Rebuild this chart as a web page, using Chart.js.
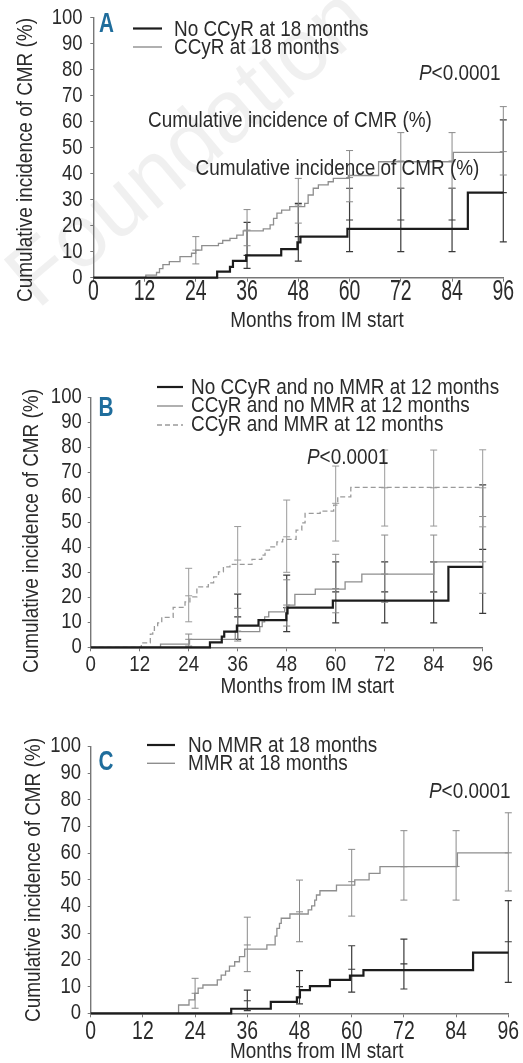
<!DOCTYPE html>
<html>
<head>
<meta charset="utf-8">
<script src="https://cdn.jsdelivr.net/npm/chart.js@4"></script>
<style>
  body { margin: 0; background: #fff; width: 523px; height: 1063px; position: relative; overflow: hidden; }
  canvas { position: absolute; left: 0; top: 0; }
</style>
</head>
<body>
<canvas id="panelA" width="523" height="1063"></canvas>
<canvas id="panelB" width="523" height="1063"></canvas>
<canvas id="panelC" width="523" height="1063"></canvas>
<script>
// Axis ticks
const monthTicks = [0, 12, 24, 36, 48, 60, 72, 84, 96];
const percentTicks = [0, 10, 20, 30, 40, 50, 60, 70, 80, 90, 100];

// Panel A: by cytogenetic response at 18 months
const aNoCcyrMonth = [0, 29, 32, 32.7, 35.8, 44, 47.8, 48.5, 59.5, 87.7, 96];
const aNoCcyrCmr = [0, 2.3, 4.2, 6.5, 8.6, 11, 13.6, 15.8, 18.8, 32.7, 32.7];
const aCcyrMonth = [0, 12.3, 14.8, 15.5, 16.3, 17.8, 20.3, 23, 24, 25.4, 29.3, 30.3, 32, 33.6, 35.1, 39.8, 41.4, 42.2, 43, 44.1, 46, 49.5, 50.3, 51.5, 52.7, 55, 56.2, 59.7, 66.8, 84.3, 96];
const aCcyrCmr = [0, 1, 2, 3.5, 5, 6.2, 8.1, 9.4, 10.6, 12.3, 13.2, 14.3, 15.1, 16.4, 18, 18.8, 20.3, 22.8, 24.8, 26, 27.3, 28.6, 31.8, 34.4, 35.7, 36.9, 38.2, 39.3, 44.6, 48.2, 48.2];
const aNoCcyrBarMonth = [36, 48, 60, 72, 84, 96];
const aNoCcyrLow = [3.6, 6.4, 10, 10, 10, 13.8];
const aNoCcyrMid = [8.6, 15.8, 22.2, 22.2, 22.2, 32.7];
const aNoCcyrHigh = [21.3, 28.6, 34.4, 34.4, 34.4, 60.7];
const aCcyrBarMonth = [24, 36, 48, 60, 72, 84, 96];
const aCcyrLow = [5.3, 12.3, 21, 29.2, 34.4, 34.4, 39.5];
const aCcyrMid = [10.6, 18.3, 28, 38.5, 44.9, 44.9, 48.5];
const aCcyrHigh = [15.8, 26.2, 38.2, 48.9, 55.8, 55.8, 65.8];

// Panel B: by response at 12 months
const bNoneMonth = [0, 29.2, 32.1, 32.7, 35.8, 41.1, 47.9, 48.2, 59.3, 87.6, 96];
const bNoneCmr = [0, 2, 4.3, 6.3, 8.7, 10.9, 13.6, 15.9, 18.7, 32.2, 32.2];
const bCcyrMonth = [0, 17.1, 24.2, 35.4, 41.4, 42, 42.6, 43.6, 47.5, 48.3, 50, 55, 62.3, 66.4, 84, 96];
const bCcyrCmr = [0, 1.3, 3.2, 6.3, 8.3, 10.2, 12.2, 14.2, 16, 16.9, 21.2, 23.3, 26.2, 29.3, 34.2, 34.2];
const bBothMonth = [0, 12.4, 14.6, 15.2, 15.6, 16.4, 17.4, 20.2, 23.1, 24.3, 26, 28.8, 30.1, 31.3, 32.5, 34.1, 39.5, 41.9, 42.7, 43.8, 45.6, 47, 50.3, 51.7, 52.5, 56.2, 59.5, 60.5, 63.7, 96];
const bBothCmr = [0, 1.8, 5.3, 6.8, 8.3, 9.8, 12, 16, 18.2, 20.2, 24.2, 25.8, 28.2, 30.2, 32.2, 33.2, 35.2, 36.9, 38.9, 40.2, 42.2, 43.2, 46.9, 49.8, 53.6, 54.5, 56.9, 60.2, 64, 64];
const bNoneBarMonth = [36, 48, 60, 72, 84, 96];
const bNoneLow = [3.2, 6.3, 9.8, 9.8, 9.8, 13.6];
const bNoneMid = [12.2, 15.9, 22.2, 22.2, 22.2, 39.2];
const bNoneHigh = [21.3, 28.9, 34.2, 34.2, 34.2, 65];
const bCcyrBarMonth = [24, 36, 48, 60, 72, 84, 96];
const bCcyrLow = [0.5, 2.5, 8.5, 13.8, 18, 22, 21.6];
const bCcyrMid = [3.2, 6.5, 16.9, 23.5, 29.3, 34.2, 34.2];
const bCcyrHigh = [5.3, 15.6, 27, 37.2, 44.9, 44.9, 52.3];
const bBothBarMonth = [24, 36, 48, 60, 72, 84, 96];
const bBothLow = [10.2, 21.5, 30, 42.5, 48.5, 48.5, 48.2];
const bBothMid = [20.6, 34.9, 44.2, 57.6, 63.8, 63.8, 63.8];
const bBothHigh = [31.6, 48.3, 58.9, 72.5, 78.9, 78.9, 79];

// Panel C: by molecular response at 18 months
const cNoMmrMonth = [0, 32.3, 41.4, 47.4, 48.1, 50.4, 55, 59.6, 62.7, 87.9, 96];
const cNoMmrCmr = [0, 1.7, 4.3, 6, 8.7, 10.2, 12.5, 14.1, 16.2, 22.7, 22.7];
const cMmrMonth = [0, 20.2, 22.6, 23.9, 24.7, 25.8, 29.1, 30, 31, 31.9, 33.1, 34.2, 35.4, 40.5, 42.4, 42.8, 43.4, 43.8, 45.8, 50, 50.8, 51.5, 51.9, 52.7, 56.5, 60.7, 64, 66.5, 84.3, 96];
const cMmrCmr = [0, 3.1, 5, 7.5, 9.4, 10.6, 12.5, 14.3, 15.8, 17.7, 19.3, 21.2, 24, 25.6, 28.9, 31.8, 33.7, 35.6, 37.2, 38.7, 40.2, 42.4, 44.3, 45.9, 48, 50, 52.4, 54.9, 60.1, 60.1];
const cNoMmrBarMonth = [36, 48, 60, 72, 96];
const cNoMmrLow = [1, 3.5, 7.9, 9.1, 11.6];
const cNoMmrMid = [4.7, 10, 16.5, 18.5, 26.8];
const cNoMmrHigh = [8.7, 16, 25.3, 27.8, 42.2];
const cMmrBarMonth = [24, 36, 48, 60, 72, 84, 96];
const cMmrLow = [1.9, 15.6, 26.8, 36.4, 42.4, 42.4, 45.8];
const cMmrMid = [7.5, 25.6, 38, 49.3, 54.9, 55, 60.1];
const cMmrHigh = [13.1, 36, 49.9, 61.4, 68.4, 68.4, 75.1];

const W = 523, H = 1063, AXIS_H = 30;
// no condensed face installed, so a regular face is squeezed horizontally
const FONT = '"Liberation Sans", Arial, sans-serif';
const SQUEEZE = 0.86;
const TEXT = "#2b2b2b";
const AXIS = "#777";
const DARK = "#1c1c1c";
const GREY = "#8e8e8e";
const BLUE = "#1f6d9c";
const CAP = 3.5;

// pair two arrays into {x, y} points
const pts = (xs, ys) => xs.map((x, i) => ({ x, y: ys[i] }));

// draw one text item (optionally rotated, squeezed, with italic parts)
function drawText(ctx, it) {
  ctx.save();
  ctx.translate(it.x, it.y);
  if (it.rotate) ctx.rotate(it.rotate);
  ctx.scale(it.sx || SQUEEZE, 1);
  ctx.textBaseline = "middle";
  ctx.textAlign = "left";
  ctx.fillStyle = it.color || TEXT;
  const parts = it.parts || [{ text: it.text }];
  const fontOf = p => `${p.italic ? "italic " : ""}${it.bold ? "bold " : ""}${it.size || 22}px ${FONT}`;
  const total = parts.reduce((s, p) => { ctx.font = fontOf(p); return s + ctx.measureText(p.text).width; }, 0);
  let cx = it.align === "right" ? -total : it.align === "center" ? -total / 2 : 0;
  parts.forEach(p => {
    ctx.font = fontOf(p);
    ctx.fillText(p.text, cx, 0);
    cx += ctx.measureText(p.text).width;
  });
  ctx.restore();
}

// Draw error bars (line + caps + middle tick) through the chart scales
const errorBarPlugin = {
  id: "errorBars",
  beforeDatasetsDraw(chart) {
    const { ctx, scales: { x, y } } = chart;
    chart.data.datasets.forEach(ds => {
      const b = ds.errorBars;
      if (!b) return;
      ctx.save();
      ctx.strokeStyle = b.color;
      ctx.lineWidth = b.width;
      b.month.forEach((m, i) => {
        const px = x.getPixelForValue(m);
        const top = y.getPixelForValue(b.high[i]);
        const mid = y.getPixelForValue(b.mid[i]);
        const bot = y.getPixelForValue(b.low[i]);
        ctx.beginPath();
        ctx.moveTo(px, top);
        ctx.lineTo(px, bot);
        [top, mid, bot].forEach(py => {
          ctx.moveTo(px - CAP, py);
          ctx.lineTo(px + CAP, py);
        });
        ctx.stroke();
      });
      ctx.restore();
    });
  }
};

// Tick labels in the squeezed face, placed by the scales
const tickLabelPlugin = {
  id: "tickLabels",
  afterDraw(chart, args, opts) {
    const { ctx, chartArea, scales: { x, y } } = chart;
    x.ticks.forEach(t => drawText(ctx, {
      text: String(t.value), x: x.getPixelForValue(t.value), y: chartArea.bottom + opts.xGap,
      size: opts.xSize, sx: opts.xSqueeze, align: "center"
    }));
    y.ticks.forEach(t => drawText(ctx, {
      text: String(t.value), x: chartArea.left - opts.yGap, y: y.getPixelForValue(t.value),
      size: 21.5, align: "right"
    }));
  }
};

// Free texts, legend keys and watermark
const notesPlugin = {
  id: "notes",
  beforeDraw(chart, args, opts) {
    if (!opts.watermark) return;
    const ctx = chart.ctx;
    ctx.save();
    ctx.translate(190, 150);
    ctx.rotate(-0.7);
    ctx.font = `88px ${FONT}`;
    ctx.fillStyle = "rgba(0,0,0,0.06)";
    ctx.textAlign = "center";
    ctx.textBaseline = "middle";
    ctx.fillText("Foundation", 0, 0);
    ctx.restore();
  },
  afterDraw(chart, args, opts) {
    const ctx = chart.ctx;
    (opts.items || []).forEach(it => {
      if (!it.line) return drawText(ctx, it);
      ctx.save();
      ctx.strokeStyle = it.color;
      ctx.lineWidth = it.width;
      ctx.setLineDash(it.dash || []);
      ctx.beginPath();
      ctx.moveTo(it.x, it.y);
      ctx.lineTo(it.x2, it.y);
      ctx.stroke();
      ctx.restore();
    });
  }
};

function stepLine(label, xs, ys, color, width, dash, bars) {
  return {
    label,
    data: pts(xs, ys),
    stepped: "before",
    borderColor: color,
    borderWidth: width,
    borderDash: dash || [],
    pointRadius: 0,
    fill: false,
    clip: false,
    errorBars: bars
  };
}

function makePanel(id, area, datasets, items, watermark) {
  return new Chart(document.getElementById(id), {
    type: "line",
    data: { datasets },
    options: {
      responsive: false,
      animation: false,
      events: [],
      layout: { padding: { left: 0, top: area.top, right: W - area.right, bottom: H - area.bottom - AXIS_H } },
      plugins: {
        legend: { display: false },
        tooltip: { enabled: false },
        notes: { items, watermark },
        tickLabels: area.labels
      },
      scales: {
        x: {
          type: "linear",
          min: 0,
          max: 96,
          afterBuildTicks: s => { s.ticks = monthTicks.map(v => ({ value: v })); },
          afterFit: s => { s.height = AXIS_H; },
          border: { color: AXIS, width: 1.4 },
          grid: { drawOnChartArea: false, color: AXIS, tickLength: 4, lineWidth: 1 },
          ticks: { display: false }
        },
        y: {
          min: 0,
          max: 100,
          afterBuildTicks: s => { s.ticks = percentTicks.map(v => ({ value: v })); },
          afterFit: s => { s.width = area.left; },
          border: { color: AXIS, width: 1.4 },
          grid: { drawOnChartArea: false, color: AXIS, tickLength: 3, lineWidth: 1 },
          ticks: { display: false }
        }
      }
    },
    plugins: [errorBarPlugin, tickLabelPlugin, notesPlugin]
  });
}

const yTitle = "Cumulative incidence of CMR (%)";
const xTitle = "Months from IM start";
const pValue = [{ text: "P", italic: true }, { text: "<0.0001" }];

makePanel("panelA", {
  left: 93.3, right: 503.3, top: 17.7, bottom: 277.7,
  labels: { xGap: 14, xSize: 29, xSqueeze: 0.67, yGap: 10.8 }
}, [
  stepLine("No CCyR at 18 months", aNoCcyrMonth, aNoCcyrCmr, DARK, 2.2, null,
    { month: aNoCcyrBarMonth, low: aNoCcyrLow, mid: aNoCcyrMid, high: aNoCcyrHigh, color: "#3a3a3a", width: 1.2 }),
  stepLine("CCyR at 18 months", aCcyrMonth, aCcyrCmr, GREY, 1.3, null,
    { month: aCcyrBarMonth, low: aCcyrLow, mid: aCcyrMid, high: aCcyrHigh, color: "#8a8a8a", width: 1 })
], [
  { text: yTitle, x: 26, y: 160, rotate: -Math.PI / 2, align: "center" },
  { text: "A", x: 106.5, y: 24, size: 28, sx: 0.74, bold: true, color: BLUE, align: "center" },
  { line: true, x: 133, x2: 162, y: 28.5, color: DARK, width: 2.2 },
  { line: true, x: 133, x2: 162, y: 47, color: GREY, width: 1.4 },
  { text: "No CCyR at 18 months", x: 174, y: 29.5 },
  { text: "CCyR at 18 months", x: 174, y: 48 },
  { parts: pValue, x: 500.5, y: 74, align: "right" },
  { text: yTitle, x: 148, y: 120.5 },
  { text: yTitle, x: 195.5, y: 168.5 },
  { text: xTitle, x: 317, y: 321, align: "center" }
], true);

makePanel("panelB", {
  left: 90.7, right: 482.7, top: 397.3, bottom: 647.3,
  labels: { xGap: 17.7, xSize: 22, xSqueeze: 0.85, yGap: 9 }
}, [
  stepLine("No CCyR and no MMR at 12 months", bNoneMonth, bNoneCmr, DARK, 2.2, null,
    { month: bNoneBarMonth, low: bNoneLow, mid: bNoneMid, high: bNoneHigh, color: "#3a3a3a", width: 1.2 }),
  stepLine("CCyR and no MMR at 12 months", bCcyrMonth, bCcyrCmr, GREY, 1.3, null,
    { month: bCcyrBarMonth, low: bCcyrLow, mid: bCcyrMid, high: bCcyrHigh, color: "#8a8a8a", width: 1 }),
  stepLine("CCyR and MMR at 12 months", bBothMonth, bBothCmr, "#9a9a9a", 1.3, [5, 3],
    { month: bBothBarMonth, low: bBothLow, mid: bBothMid, high: bBothHigh, color: "#9a9a9a", width: 1 })
], [
  { text: yTitle, x: 32, y: 531, rotate: -Math.PI / 2, align: "center" },
  { text: "B", x: 106, y: 408.5, size: 28, sx: 0.74, bold: true, color: BLUE, align: "center" },
  { line: true, x: 157, x2: 183, y: 387, color: DARK, width: 2.2 },
  { line: true, x: 157, x2: 183, y: 406, color: GREY, width: 1.4 },
  { line: true, x: 157, x2: 183, y: 425, color: "#9a9a9a", width: 1.4, dash: [5, 3] },
  { text: "No CCyR and no MMR at 12 months", x: 191, y: 387.5 },
  { text: "CCyR and no MMR at 12 months", x: 191, y: 406 },
  { text: "CCyR and MMR at 12 months", x: 191, y: 424.5 },
  { parts: pValue, x: 307, y: 457.5 },
  { text: xTitle, x: 307.3, y: 686.7, align: "center" }
], false);

makePanel("panelC", {
  left: 90.7, right: 508.3, top: 746.3, bottom: 1013.3,
  labels: { xGap: 18.4, xSize: 25.5, xSqueeze: 0.76, yGap: 9.7 }
}, [
  stepLine("No MMR at 18 months", cNoMmrMonth, cNoMmrCmr, DARK, 2.2, null,
    { month: cNoMmrBarMonth, low: cNoMmrLow, mid: cNoMmrMid, high: cNoMmrHigh, color: "#3a3a3a", width: 1.2 }),
  stepLine("MMR at 18 months", cMmrMonth, cMmrCmr, GREY, 1.3, null,
    { month: cMmrBarMonth, low: cMmrLow, mid: cMmrMid, high: cMmrHigh, color: "#8a8a8a", width: 1 })
], [
  { text: yTitle, x: 34, y: 880, rotate: -Math.PI / 2, align: "center" },
  { text: "C", x: 106, y: 762, size: 28, sx: 0.74, bold: true, color: BLUE, align: "center" },
  { line: true, x: 147, x2: 175, y: 745, color: DARK, width: 2.2 },
  { line: true, x: 147, x2: 175, y: 763.3, color: GREY, width: 1.4 },
  { text: "No MMR at 18 months", x: 188, y: 745.5 },
  { text: "MMR at 18 months", x: 188, y: 764 },
  { parts: pValue, x: 510.5, y: 791.7, align: "right" },
  { text: xTitle, x: 316.7, y: 1051.7, align: "center" }
], false);
</script>
</body>
</html>
